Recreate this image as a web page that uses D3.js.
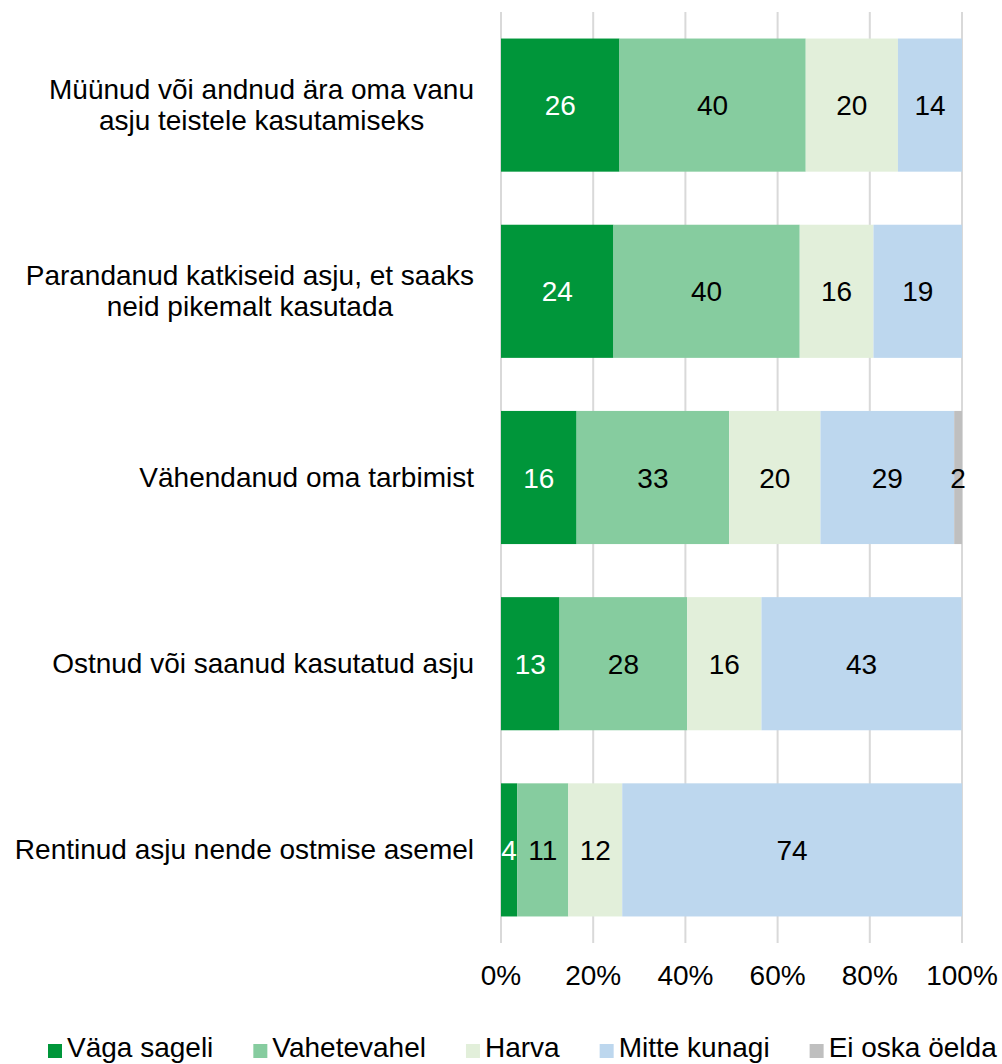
<!DOCTYPE html>
<html>
<head>
<meta charset="utf-8">
<script src="https://cdn.jsdelivr.net/npm/d3@7"></script>
<style>
  html, body { margin: 0; padding: 0; background: #fff; }
  svg { display: block; font-family: "Liberation Sans", Arial, sans-serif; }
</style>
</head>
<body>
<svg id="chart" width="1002" height="1064"></svg>
<script>
// ---- Data ----
const categories = [
  ["Müünud või andnud ära oma vanu", "asju teistele kasutamiseks"],
  ["Parandanud katkiseid asju, et saaks", "neid pikemalt kasutada"],
  ["Vähendanud oma tarbimist"],
  ["Ostnud või saanud kasutatud asju"],
  ["Rentinud asju nende ostmise asemel"]
];
const seriesNames = ["Väga sageli", "Vahetevahel", "Harva", "Mitte kunagi", "Ei oska öelda"];
const vagaSageli   = [25.7, 24.4, 16.4, 12.7, 3.5];
const vahetevahel  = [40.4, 40.4, 33.1, 27.7, 11.1];
const harva        = [20.0, 16.0, 19.8, 16.1, 11.7];
const mitteKunagi  = [13.9, 19.2, 29.0, 43.4, 73.7];
const eiOskaOelda  = [0, 0, 1.7, 0, 0];
const tickValues   = [0, 20, 40, 60, 80, 100];
const colors       = ["#00963a", "#86cc9f", "#e2efda", "#bdd7ee", "#bfbfbf"];
const labelColors  = ["#ffffff", "#000000", "#000000", "#000000", "#000000"];

const seriesValues = [vagaSageli, vahetevahel, harva, mitteKunagi, eiOskaOelda];

// ---- Layout ----
const svg = d3.select("#chart");
const FS = 28;
const x = d3.scaleLinear().domain([0, 100]).range([501, 962]);
const y = d3.scaleBand()
  .domain(d3.range(categories.length))
  .range([12, 943])
  .paddingInner(0.285)
  .paddingOuter(0.1425);

// gridlines
svg.append("g").selectAll("line")
  .data(tickValues)
  .join("line")
  .attr("x1", d => x(d)).attr("x2", d => x(d))
  .attr("y1", 12).attr("y2", 943)
  .attr("stroke", "#d9d9d9")
  .attr("stroke-width", 2);

// stacked data
const rows = categories.map((c, i) => {
  const o = { idx: i };
  seriesNames.forEach((s, j) => o[s] = seriesValues[j][i]);
  return o;
});
const stack = d3.stack().keys(seriesNames)(rows);

const layers = svg.append("g").selectAll("g")
  .data(stack)
  .join("g")
  .attr("fill", (d, i) => colors[i]);

layers.selectAll("rect")
  .data(d => d)
  .join("rect")
  .attr("x", d => x(d[0]))
  .attr("width", d => x(d[1]) - x(d[0]))
  .attr("y", d => y(d.data.idx))
  .attr("height", y.bandwidth());

// data labels
svg.append("g").selectAll("g")
  .data(stack)
  .join("g")
  .attr("fill", (d, i) => labelColors[i])
  .selectAll("text")
  .data(d => d.filter(v => v[1] - v[0] > 0))
  .join("text")
  .attr("x", d => (x(d[0]) + x(d[1])) / 2)
  .attr("y", d => y(d.data.idx) + y.bandwidth() / 2 + 10)
  .attr("text-anchor", "middle")
  .attr("font-size", FS)
  .text(d => d3.format(".0f")(d[1] - d[0]));

// category labels
const catG = svg.append("g");
categories.forEach((lines, i) => {
  const cy = y(i) + y.bandwidth() / 2;
  const texts = lines.map((ln, k) => catG.append("text")
    .attr("font-size", FS)
    .attr("fill", "#000")
    .attr("text-anchor", "middle")
    .attr("y", cy + (k - (lines.length - 1) / 2) * 31 + 9)
    .text(ln));
  const maxW = d3.max(texts, t => t.node().getComputedTextLength());
  texts.forEach(t => t.attr("x", 474 - maxW / 2));
});

// x axis tick labels
svg.append("g").selectAll("text")
  .data(tickValues)
  .join("text")
  .attr("x", d => x(d))
  .attr("y", 985)
  .attr("text-anchor", "middle")
  .attr("font-size", FS)
  .attr("fill", "#000")
  .text(d => d + "%");

// legend
const leg = svg.append("g");
let lx = 48;
seriesNames.forEach((s, i) => {
  leg.append("rect")
    .attr("x", lx).attr("y", 1044)
    .attr("width", 14).attr("height", 14)
    .attr("fill", colors[i]);
  const t = leg.append("text")
    .attr("x", lx + 19).attr("y", 1057)
    .attr("font-size", FS)
    .attr("fill", "#000")
    .text(s);
  lx += 19 + t.node().getComputedTextLength() + 40;
});
</script>
</body>
</html>
